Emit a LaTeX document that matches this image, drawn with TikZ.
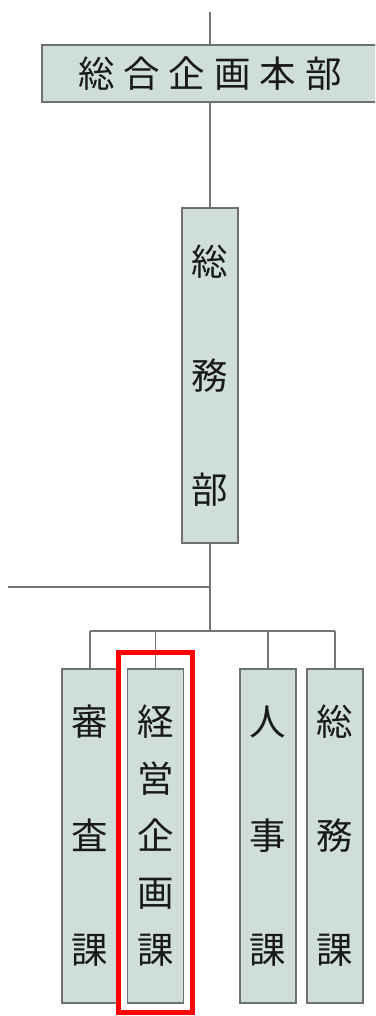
\documentclass[tikz,border=0pt]{standalone}
\usepackage{fontspec}
\newfontfamily\cjk{Noto Sans CJK JP}
\definecolor{boxfill}{RGB}{207,222,214}
\definecolor{boxline}{RGB}{112,112,112}
\definecolor{conline}{RGB}{120,116,118}
\begin{document}
\begin{tikzpicture}[x=1pt,y=-1pt,
  orgbox/.style={draw=boxline,line width=1.4pt,fill=boxfill,inner sep=0pt,
    font=\cjk\fontsize{36.5}{57}\selectfont,text=black!90,align=center},
  vbox/.style={orgbox,minimum width=56pt,minimum height=334pt},
  conn/.style={draw=conline,line width=1.4pt},
  hilite/.style={draw=red,line width=5pt}]
\useasboundingbox (0,0) rectangle (375,1016);
\clip (0,0) rectangle (375,1016);
% top
\node[orgbox,minimum width=336pt,minimum height=57pt] (hq) at (210,73.5)
  {総\hspace{9pt}合\hspace{9pt}企\hspace{9pt}画\hspace{9pt}本\hspace{9pt}部};
\coordinate (topend) at (210,12);
\node[vbox,minimum height=335pt] (soumubu) at (210,375.5) {総\\[57pt]務\\[57pt]部};
\coordinate (side) at (8,587);
\coordinate (jn) at (210,587);
\coordinate (bus) at (210,631);
\node[vbox] (shinsa) at (90,836) {審\\[57pt]査\\[57pt]課};
\node[vbox] (keiei) at (155.5,836) {経\\営\\企\\画\\課};
\node[vbox] (jinji) at (268,836) {人\\[57pt]事\\[57pt]課};
\node[vbox] (soumuka) at (335,836) {総\\[57pt]務\\[57pt]課};
% connectors
\draw[conn] (topend) -- (hq.north -| topend);
\draw[conn] (hq.south -| soumubu) -- (soumubu.north);
\draw[conn] (soumubu.south) -- (bus);
\draw[conn] (side) -- (jn);
\draw[conn] (shinsa.north |- bus) -- (soumuka.north |- bus);
\draw[conn] (shinsa.north |- bus) -- (shinsa.north);
\draw[conn] (keiei.north |- bus) -- (keiei.north);
\draw[conn] (jinji.north |- bus) -- (jinji.north);
\draw[conn] (soumuka.north |- bus) -- (soumuka.north);
% highlight
\node[hilite,minimum width=74pt,minimum height=360pt,inner sep=0pt] (hl) at (155,832) {};
\end{tikzpicture}
\end{document}
